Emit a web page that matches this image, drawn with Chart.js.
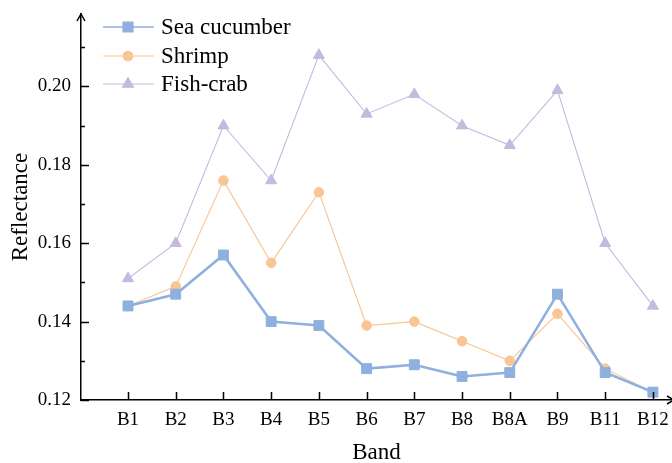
<!DOCTYPE html>
<html>
<head>
<meta charset="utf-8">
<script src="https://cdn.jsdelivr.net/npm/chart.js@4/dist/chart.umd.min.js"></script>
<style>
  html, body { margin: 0; padding: 0; background: #fff; }
  #wrap { width: 672px; height: 463px; }
</style>
</head>
<body>
<div id="wrap"><canvas id="c" width="672" height="463"></canvas></div>
<script>
// Sentinel-2 bands on the x axis
const bands = ['B1', 'B2', 'B3', 'B4', 'B5', 'B6', 'B7', 'B8', 'B8A', 'B9', 'B11', 'B12'];

// Mean reflectance per band for each culture type
const seaCucumber = [0.144, 0.147, 0.157, 0.140, 0.139, 0.128, 0.129, 0.126, 0.127, 0.147, 0.127, 0.122];
const shrimp      = [0.144, 0.149, 0.176, 0.155, 0.173, 0.139, 0.140, 0.135, 0.130, 0.142, 0.128, 0.122];
const fishCrab    = [0.151, 0.160, 0.190, 0.176, 0.208, 0.193, 0.198, 0.190, 0.185, 0.199, 0.160, 0.144];

// Y axis ticks (every 0.01, labelled every 0.02)
const yTicks = [0.12, 0.13, 0.14, 0.15, 0.16, 0.17, 0.18, 0.19, 0.20, 0.21];
const yMin = 0.12, yMax = 0.2185;

const SERIF = '"Liberation Serif", "Times New Roman", serif';

const toPoints = arr => arr.map((v, i) => ({ x: i, y: v }));
const isMajor = v => Math.round(v * 100) % 2 === 0;

const series = [
  { label: 'Sea cucumber', data: seaCucumber, color: '#8fb0de', width: 2.6, style: 'rect', radius: 7, legendWidth: 1.3 },
  { label: 'Shrimp', data: shrimp, color: '#f8c593', width: 1.1, style: 'circle', radius: 4.8, legendWidth: 1.1 },
  { label: 'Fish-crab', data: fishCrab, color: '#c5b9df', width: 1.1, style: 'triangle', radius: 6.4, legendWidth: 1.1 }
];

// Inward tick marks, axis arrows and the line+marker legend
const decorations = {
  id: 'decorations',
  afterDraw(chart) {
    const ctx = chart.ctx;
    const area = chart.chartArea;
    const xs = chart.scales.x, ys = chart.scales.y;
    ctx.save();
    ctx.strokeStyle = '#000';
    ctx.lineWidth = 1.5;

    // x ticks point up into the plot
    ctx.beginPath();
    bands.forEach((b, i) => {
      const px = Math.round(xs.getPixelForValue(i)) + 0.5;
      ctx.moveTo(px, area.bottom);
      ctx.lineTo(px, area.bottom - 8);
    });
    // y ticks point right, minor ones shorter
    yTicks.forEach(v => {
      const py = Math.round(ys.getPixelForValue(v)) + 0.5;
      ctx.moveTo(area.left, py);
      ctx.lineTo(area.left + (isMajor(v) ? 8 : 4), py);
    });
    ctx.stroke();

    // arrow heads
    ctx.beginPath();
    ctx.moveTo(area.left - 4, area.top + 7);
    ctx.lineTo(area.left, area.top);
    ctx.lineTo(area.left + 4, area.top + 7);
    ctx.moveTo(area.right - 5, area.bottom - 4);
    ctx.lineTo(area.right + 2, area.bottom);
    ctx.lineTo(area.right - 5, area.bottom + 4);
    ctx.stroke();

    // legend
    const x0 = 103, x1 = 154, xm = 128, tx = 161;
    const rows = [27, 56, 84];
    series.forEach((s, i) => {
      const y = rows[i];
      ctx.strokeStyle = s.color;
      ctx.lineWidth = s.legendWidth;
      ctx.beginPath();
      ctx.moveTo(x0, y);
      ctx.lineTo(x1, y);
      ctx.stroke();
      ctx.fillStyle = s.color;
      ctx.strokeStyle = s.color;
      Chart.helpers.drawPoint(ctx, { pointStyle: s.style, radius: s.radius, borderWidth: 1, rotation: 0 }, xm, y);
      ctx.fillStyle = '#000';
      ctx.font = '23px ' + SERIF;
      ctx.textBaseline = 'middle';
      ctx.textAlign = 'left';
      ctx.fillText(s.label, tx, y + 1);
    });
    ctx.restore();
  }
};

new Chart(document.getElementById('c'), {
  type: 'line',
  data: {
    datasets: series.map(s => ({
      label: s.label,
      data: toPoints(s.data),
      borderColor: s.color,
      backgroundColor: s.color,
      borderWidth: s.width,
      pointStyle: s.style,
      pointRadius: s.radius,
      pointBorderWidth: 1,
      pointBackgroundColor: s.color,
      pointBorderColor: s.color,
      tension: 0,
      clip: false
    }))
  },
  options: {
    responsive: false,
    animation: false,
    layout: { autoPadding: false, padding: { top: 14, right: 0, left: 0, bottom: 0 } },
    plugins: { legend: { display: false }, tooltip: { enabled: false } },
    scales: {
      x: {
        type: 'linear',
        min: -0.985,
        max: 11.4,
        afterBuildTicks: scale => { scale.ticks = bands.map((b, i) => ({ value: i })); },
        afterFit: scale => { scale.height = 63; scale.paddingRight = 0; scale.paddingLeft = 0; },
        ticks: {
          autoSkip: false,
          maxRotation: 0,
          padding: 9,
          color: '#000',
          font: { family: SERIF, size: 19 },
          callback: v => bands[v] ?? ''
        },
        grid: { display: false, drawTicks: false },
        border: { display: true, color: '#000', width: 1.5 },
        title: { display: true, text: 'Band', color: '#000', font: { family: SERIF, size: 23 }, padding: { top: 0, bottom: -4 } }
      },
      y: {
        type: 'linear',
        min: yMin,
        max: yMax,
        afterBuildTicks: scale => { scale.ticks = yTicks.map(v => ({ value: v })); },
        afterFit: scale => { scale.width = 81; scale.paddingTop = 0; scale.paddingBottom = 0; },
        ticks: {
          padding: 10,
          color: '#000',
          font: { family: SERIF, size: 19 },
          callback: v => (isMajor(v) ? v.toFixed(2) : '')
        },
        grid: { display: false, drawTicks: false },
        border: { display: true, color: '#000', width: 1.5 },
        title: { display: true, text: 'Reflectance', color: '#000', font: { family: SERIF, size: 23 }, padding: { top: 7, bottom: 0 } }
      }
    }
  },
  plugins: [decorations]
});
</script>
</body>
</html>
